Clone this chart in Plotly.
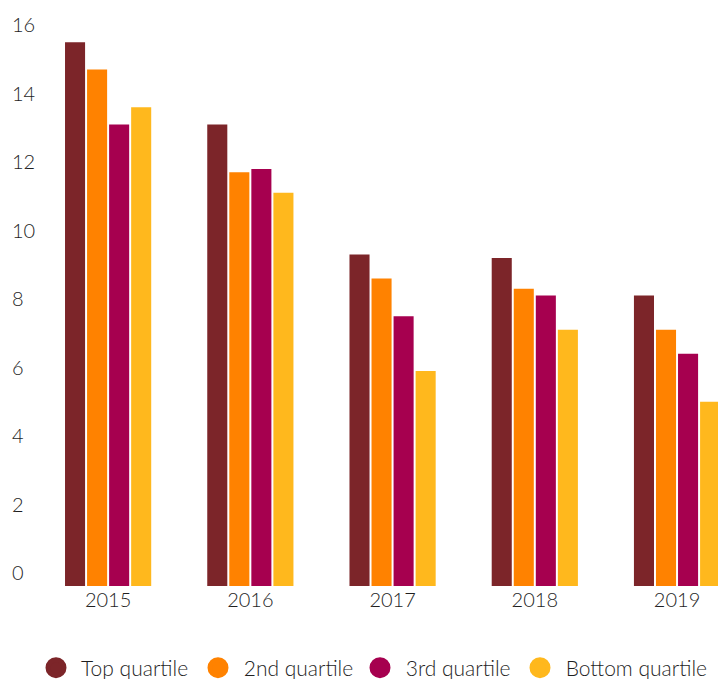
import plotly.graph_objects as go

# Category labels and series values
years = ["2015", "2016", "2017", "2018", "2019"]
series_names = ["Top quartile", "2nd quartile", "3rd quartile", "Bottom quartile"]
top_quartile = [15.5, 13.1, 9.3, 9.2, 8.1]
second_quartile = [14.7, 11.7, 8.6, 8.3, 7.1]
third_quartile = [13.1, 11.8, 7.5, 8.1, 6.4]
bottom_quartile = [13.6, 11.1, 5.9, 7.1, 5.0]
y_tick_values = [0, 2, 4, 6, 8, 10, 12, 14, 16]

# Styling
colors = ["#7C2529", "#FF8200", "#A6004F", "#FFB81D"]
FONT = "Lato"
FONT_SIZE = 20
TEXT_COLOR = "#1f1f1f"
BAR_FLOOR = -0.38  # bars sit slightly below the zero tick
W, H = 718, 679

fig = go.Figure()

all_series = [top_quartile, second_quartile, third_quartile, bottom_quartile]
for name, values, color in zip(series_names, all_series, colors):
    fig.add_trace(go.Bar(
        x=years,
        y=[v - BAR_FLOOR for v in values],
        base=BAR_FLOOR,
        name=name,
        marker=dict(color=color, line=dict(width=0)),
        showlegend=False,
        customdata=values,
        hovertemplate="%{x}: %{customdata}<extra>" + name + "</extra>",
    ))

# Round legend markers; the last entry gets its own legend box so its
# longer label is not cut by the fixed entry width of the first box
legend_ids = ["legend", "legend", "legend", "legend2"]
for name, color, lg in zip(series_names, colors, legend_ids):
    fig.add_trace(go.Scatter(
        x=[None], y=[None], mode="markers", name="\u00a0" + name,
        marker=dict(symbol="circle", size=16, color=color,
                    line=dict(width=5, color=color)),
        showlegend=True, legend=lg,
    ))

tick_font = dict(family=FONT, size=FONT_SIZE, color=TEXT_COLOR, weight=300)
legend_font = dict(family=FONT, size=21, color=TEXT_COLOR, weight=300)
legend_y = (586 - 668) / 576

fig.update_layout(
    width=W, height=H,
    margin=dict(l=0, r=0, t=10, b=93, autoexpand=False),
    paper_bgcolor="white", plot_bgcolor="white",
    barmode="group", bargap=0.38, bargroupgap=0.09,
    font=tick_font,
    xaxis=dict(
        type="category", domain=[37 / W, 1], range=[-0.5, 4.288],
        showline=False, showgrid=False, zeroline=False, ticks="",
        tickfont=tick_font,
    ),
    yaxis=dict(
        range=[BAR_FLOOR, 16.44], anchor="free", position=8 / W,
        tickmode="array", tickvals=y_tick_values,
        ticktext=[str(v) for v in y_tick_values],
        ticklabelposition="inside", ticks="",
        showline=False, showgrid=False, zeroline=False,
        tickfont=tick_font,
    ),
    legend=dict(
        orientation="h", x=36 / W, xanchor="left",
        y=legend_y, yanchor="middle",
        entrywidth=117, entrywidthmode="pixels",
        font=legend_font, bgcolor="rgba(0,0,0,0)",
    ),
    legend2=dict(
        orientation="h", x=520 / W, xanchor="left",
        y=legend_y, yanchor="middle",
        font=legend_font, bgcolor="rgba(0,0,0,0)",
    ),
)

fig.write_html("out.html")
